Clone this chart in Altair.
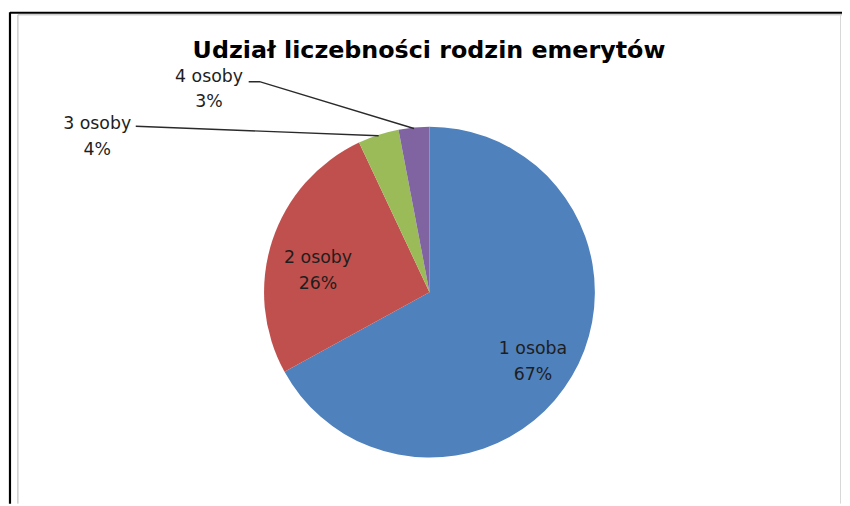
import math
import altair as alt
import pandas as pd

# ---- data ----
categories = ["1 osoba", "2 osoby", "3 osoby", "4 osoby"]
shares = [67, 26, 4, 3]
colors = ["#4F81BD", "#C0504D", "#9BBB59", "#8064A2"]
title_text = "Udział liczebności rodzin emerytów"

# ---- layout (chart pixel coordinates; page margin 8px removed) ----
W, H = 842, 498
CX, CY, R = 425.5, 284.5, 167
label_x = [530, 313, 90, 203]
label_y = [342, 250, 115, 67]
leader_start_x = [None, None, 129, 243]
leader_start_y = [None, None, 117, 72]
leader_stub = [0, 0, 0, 11]

df = pd.DataFrame({
    "cat": categories,
    "value": shares,
    "idx": list(range(len(categories))),
    "label": [f"{c}\n{v}%" for c, v in zip(categories, shares)],
    "lx": label_x,
    "ly": label_y,
})

# leader lines, derived from slice mid-angles
total = sum(shares)
rows = []
cum = 0
for i, v in enumerate(shares):
    mid = (cum + v / 2) / total * 2 * math.pi
    cum += v
    if leader_start_x[i] is None:
        continue
    ex = CX + (R - 1) * math.sin(mid)
    ey = CY - (R - 1) * math.cos(mid)
    sx, sy = leader_start_x[i], leader_start_y[i]
    pts = [(sx, sy)]
    if leader_stub[i]:
        pts.append((sx + leader_stub[i], sy))
    pts.append((ex, ey))
    for k, (px, py) in enumerate(pts):
        rows.append({"line": categories[i], "k": k, "px": px, "py": py})
lines_df = pd.DataFrame(rows)

font = "DejaVu Sans"

pie = alt.Chart(df).mark_arc(radius=R).encode(
    theta=alt.Theta("value:Q", stack=True),
    order=alt.Order("idx:Q"),
    color=alt.Color("cat:N", scale=alt.Scale(domain=categories, range=colors), legend=None),
    x=alt.value(CX),
    y=alt.value(CY),
)

labels = alt.Chart(df).mark_text(
    font=font, fontSize=17.5, color="#1e1e1e", align="center", baseline="middle",
    lineBreak="\n", lineHeight=26,
).encode(
    x=alt.X("lx:Q", scale=None, axis=None),
    y=alt.Y("ly:Q", scale=None, axis=None),
    text="label:N",
)

leaders = alt.Chart(lines_df).mark_line(color="#2a2a2a", strokeWidth=1.4).encode(
    x=alt.X("px:Q", scale=None, axis=None),
    y=alt.Y("py:Q", scale=None, axis=None),
    detail="line:N",
    order="k:Q",
)

title = alt.Chart(pd.DataFrame({"t": [title_text]})).mark_text(
    font=font, fontSize=24, fontWeight="bold", color="#000000", align="center", baseline="middle",
).encode(x=alt.value(425), y=alt.value(41), text="t:N")

frame_df = pd.DataFrame({"d": [0]})
def rule(x, y, x2, y2, color, w):
    return alt.Chart(frame_df).mark_rule(color=color, strokeWidth=w).encode(
        x=alt.value(x), y=alt.value(y), x2=alt.value(x2), y2=alt.value(y2)
    )

frame = (
    rule(2, 2.5, W, 2.5, "#000000", 2)
    + rule(2, 2, 2, H, "#000000", 2.2)
    + rule(10, 4.5, 10, H, "#b5b5b5", 1)
    + rule(10, 4.5, W, 4.5, "#b5b5b5", 1)
    + rule(840.5, 4.5, 840.5, H, "#d8d8d8", 1)
)

chart = alt.layer(frame, pie, leaders, labels, title).properties(
    width=W, height=H, autosize=alt.AutoSizeParams(type="none"), padding=0,
).configure_view(stroke=None)

chart.save("out.html", embed_options={"renderer": "svg", "actions": False})
